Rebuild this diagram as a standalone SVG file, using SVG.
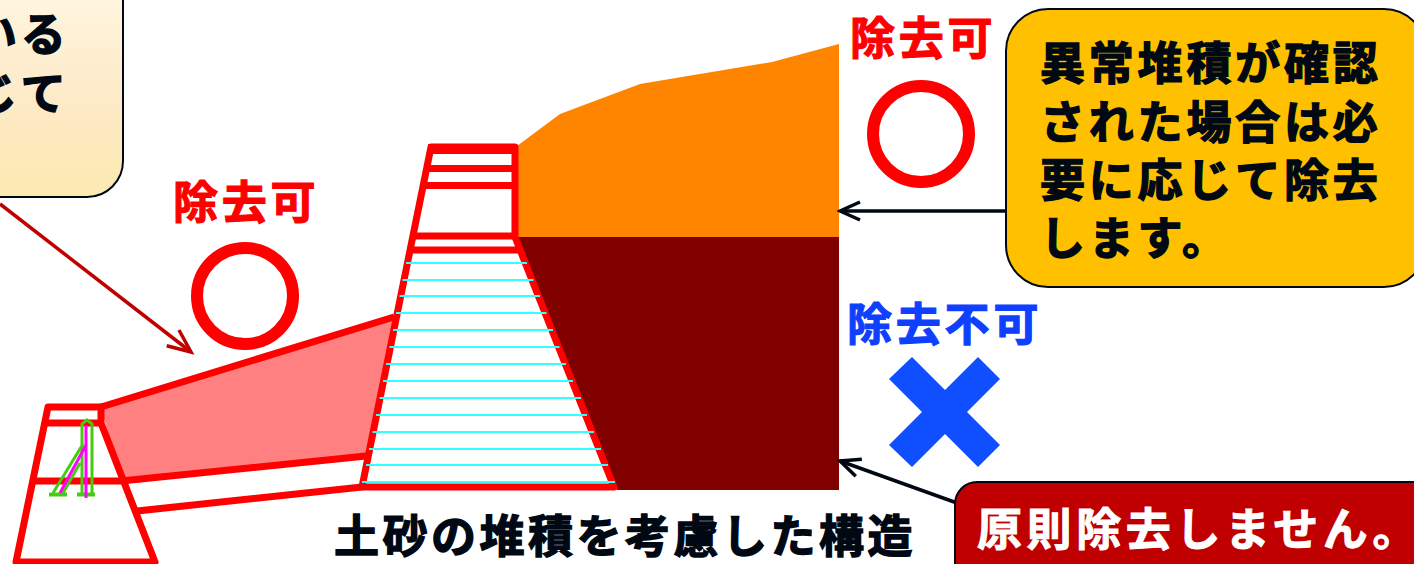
<svg xmlns="http://www.w3.org/2000/svg" width="1414" height="564" viewBox="0 0 1414 564">
<defs>
<linearGradient id="cream" x1="0" y1="0" x2="0" y2="1"><stop offset="0" stop-color="#fff8e6"/><stop offset="0.65" stop-color="#fde9c4"/><stop offset="1" stop-color="#fbeab0"/></linearGradient>
<marker id="ah" markerWidth="26" markerHeight="24" refX="23" refY="12" orient="auto" markerUnits="userSpaceOnUse"><path d="M3 3 L23 12 L3 21" fill="none" stroke="#000814" stroke-width="3.5"/></marker>
<marker id="ahr" markerWidth="30" markerHeight="24" refX="25" refY="12" orient="auto" markerUnits="userSpaceOnUse"><path d="M2 2 L25 12 L2 22" fill="none" stroke="#c00000" stroke-width="3.5"/></marker>
</defs>
<style>
text{font-family:"Noto Sans CJK JP","Liberation Sans",sans-serif;font-weight:700;font-size:45px;letter-spacing:3.800px}
.k{fill:#000814;stroke:#000814;stroke-width:1.4px}
.w{fill:#fff;stroke:#fff;stroke-width:1px}
.r{fill:#f00;stroke:#f00;stroke-width:1.2px}
.b{fill:#0f40ff;stroke:#0f40ff;stroke-width:1.2px}
.red{fill:none;stroke:#f00;stroke-width:7;stroke-linejoin:round}
.cy{stroke:#33ffff;stroke-width:2}
</style>
<g id="soil-upper"><path d="M517 146 L560 114 L640 84 L772 62 L839 44 L839 237 L517 237 Z" fill="#ff8400"/></g>
<g id="soil-lower"><path d="M517 237 L839 237 L839 490 L617 490 Z" fill="#800000"/></g>
<g id="sub-dam-apron"><path d="M101 408 L394 318 L366 456 L121 478 Z" fill="#ff8080"/></g>
<g id="main-dam">
<path class="red" d="M431 147 L515 147 L515 237 L614 487 L362 487 Z"/>
<rect x="428" y="144" width="89" height="10" fill="#f00"/>
<path class="red" d="M426 168.500 L515 168.500 M423 185.500 L515 185.500 M412 236 L515 236 M409 250 L521 250"/>
<g class="cy">
<line x1="406" x2="527" y1="263" y2="263"/><line x1="402.500" x2="533.500" y1="280" y2="280"/><line x1="399.500" x2="540" y1="296" y2="296"/><line x1="396" x2="546.500" y1="313" y2="313"/><line x1="393" x2="553" y1="330" y2="330"/><line x1="389.500" x2="559.500" y1="347" y2="347"/><line x1="386" x2="566" y1="364" y2="364"/><line x1="383" x2="573" y1="381" y2="381"/><line x1="379.500" x2="581" y1="398" y2="398"/><line x1="376" x2="587" y1="415" y2="415"/><line x1="372.500" x2="594" y1="432" y2="432"/><line x1="369" x2="601" y1="449" y2="449"/><line x1="366" x2="608" y1="465" y2="465"/><line x1="362" x2="615" y1="482" y2="482"/>
</g>
</g>
<g id="sub-dam">
<path class="red" d="M48 407 L101 407 L101 423 L155 562 L16 562 Z"/>
<path class="red" d="M45 423 L101 423 M34 481 L121 481 L366 456 M137 511 L362 487 M101 407 L394 317"/>
<path d="M82 495 L82 424 L87 420 L92 424 L92 495 M83 444 L53 493 M80 463 L63 493" fill="none" stroke="#44cc11" stroke-width="3"/>
<path d="M49 494.500 L67 494.500 M77 494.500 L95 494.500" stroke="#44cc11" stroke-width="4"/>
<path d="M86 425 L86 498 M86 445 L60 493" fill="none" stroke="#ff00ff" stroke-width="3"/>
</g>
<g id="connectors" fill="none">
<path d="M0 204 L191 352" stroke="#c00000" stroke-width="3.500" marker-end="url(#ahr)"/>
<path d="M1006 211 L840 211" stroke="#000814" stroke-width="3.500" marker-end="url(#ah)"/>
<path d="M957 503 L840 461" stroke="#000814" stroke-width="3.500" marker-end="url(#ah)"/>
</g>
<g id="callout-left">
<rect x="-200" y="-40" width="323" height="237" rx="36" fill="url(#cream)" stroke="#000814" stroke-width="2"/>
<text class="k" x="-28" y="51">いる</text>
<text class="k" x="-28" y="110">じて</text>
</g>
<g id="callout-right">
<rect x="1006" y="9" width="420" height="278" rx="42" fill="#ffc000" stroke="#000814" stroke-width="2"/>
<text class="k" x="1040" y="80">異常堆積が確認</text>
<text class="k" x="1040" y="139">された場合は必</text>
<text class="k" x="1040" y="197">要に応じて除去</text>
<text class="k" x="1040" y="255">します。</text>
</g>
<g id="callout-bottom">
<rect x="955" y="482" width="480" height="110" rx="22" fill="#c00000" stroke="#000814" stroke-width="2"/>
<text class="w" style="letter-spacing:4.600px" x="977" y="546">原則除去しません。</text>
</g>
<g id="mark-upper-right"><text class="r" x="850" y="55">除去可</text><circle cx="921" cy="134" r="48" fill="none" stroke="#f00" stroke-width="12"/></g>
<g id="mark-left"><text class="r" x="173" y="219">除去可</text><circle cx="245" cy="296" r="48" fill="none" stroke="#f00" stroke-width="12"/></g>
<g id="mark-lower-right"><text class="b" x="847" y="341">除去不可</text><path d="M912 357 L945 390 L978 357 L1000 379 L967 412 L1000 445 L978 467 L945 434 L912 467 L889 445 L922 412 L889 379 Z" fill="#0f4fff"/></g>
<g id="caption"><text class="k" style="letter-spacing:3.500px" x="334" y="553">土砂の堆積を考慮した構造</text></g>
</svg>
